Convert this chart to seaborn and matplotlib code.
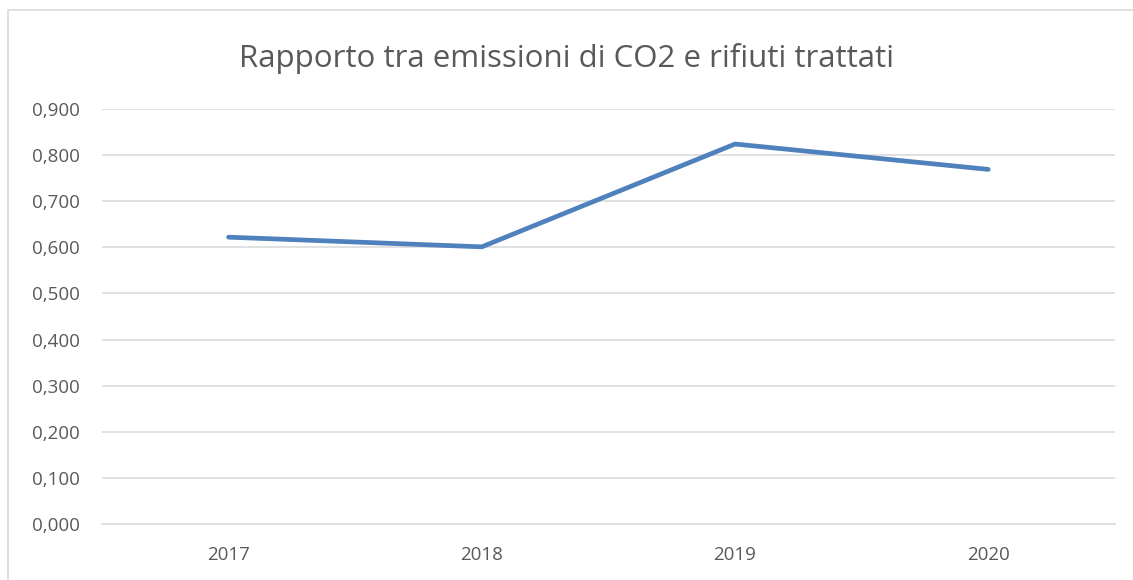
import matplotlib
matplotlib.use("Agg")
import matplotlib.pyplot as plt
import seaborn as sns
import pandas as pd
from matplotlib.patches import Rectangle
from matplotlib.ticker import FuncFormatter

years = ["2017", "2018", "2019", "2020"]
ratio = [0.622, 0.601, 0.824, 0.769]
y_ticks = [0.0, 0.1, 0.2, 0.3, 0.4, 0.5, 0.6, 0.7, 0.8, 0.9]

df = pd.DataFrame({"anno": years, "rapporto": ratio})

sns.set_style("white")
plt.rcParams["font.family"] = ["Open Sans", "DejaVu Sans"]

fig = plt.figure(figsize=(11.33, 5.8), dpi=100)
ax = fig.add_axes([0.090, 0.0966, 0.894, 0.7155])

sns.lineplot(data=df, x="anno", y="rapporto", ax=ax, color="#4F81BD",
             linewidth=3.4, solid_capstyle="round", solid_joinstyle="miter", zorder=3)

ax.set_xlim(-0.5, 3.5)
ax.set_ylim(0, 0.9)
ax.set_yticks(y_ticks)
ax.yaxis.set_major_formatter(FuncFormatter(lambda v, p: f"{v:.3f}".replace(".", ",")))
ax.grid(axis="y", color="#d9d9d9", linewidth=1.1)
ax.grid(axis="x", visible=False)
for s in ["top", "right", "left"]:
    ax.spines[s].set_visible(False)
ax.spines["bottom"].set_color("#d9d9d9")
ax.spines["bottom"].set_linewidth(1.1)
ax.tick_params(axis="both", length=0, labelsize=13.5, labelcolor="#595959")
ax.tick_params(axis="x", pad=16)
ax.tick_params(axis="y", pad=16)
ax.set_xlabel("")
ax.set_ylabel("")

fig.text(0.5, 0.900, "Rapporto tra emissioni di CO2 e rifiuti trattati",
         ha="center", va="center", fontsize=22.5, color="#595959")

fig.patches.append(Rectangle((8 / 1133, -0.1), 1.2, 1 - 10 / 580 + 0.1,
                             transform=fig.transFigure, fill=False,
                             edgecolor="#d9d9d9", linewidth=1.2))

fig.savefig("out.png", dpi=100)
